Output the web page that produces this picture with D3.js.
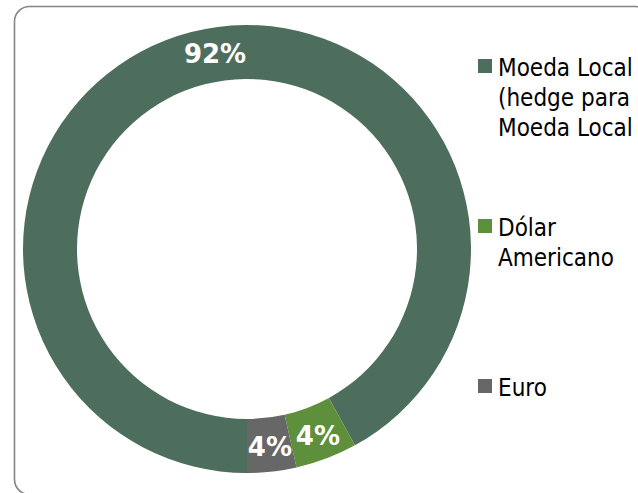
<!DOCTYPE html>
<html>
<head>
<meta charset="utf-8">
<script src="https://cdn.jsdelivr.net/npm/d3@7"></script>
<style>
  html, body { margin: 0; padding: 0; background: #fff; overflow: hidden; }
  svg { display: block; }
</style>
</head>
<body>
<div id="chart"></div>
<script>
const categories = ["Moeda Local (hedge para Moeda Local)", "Dólar Americano", "Euro"];
const shares = [92, 4.45, 3.55];
const labels = ["92%", "4%", "4%"];
const legendLines = [["Moeda Local", "(hedge para", "Moeda Local"], ["Dólar", "Americano"], ["Euro"]];
const colors = ["#4e6e5d", "#5e8f3b", "#676767"];

const W = 638, H = 493;
const cx = 247, cy = 249, outerR = 224, innerR = 170;

const svg = d3.select("#chart").append("svg")
  .attr("width", W)
  .attr("height", H);

// frame
svg.append("rect")
  .attr("x", 14.5).attr("y", 6.5)
  .attr("width", 636).attr("height", 488)
  .attr("rx", 15).attr("ry", 15)
  .attr("fill", "none")
  .attr("stroke", "#858585")
  .attr("stroke-width", 1.6);

const pie = d3.pie().sort(null)
  .startAngle(Math.PI).endAngle(3 * Math.PI);
const arcs = pie(shares);

const arc = d3.arc().innerRadius(innerR).outerRadius(outerR);

const g = svg.append("g").attr("transform", `translate(${cx},${cy})`);

g.selectAll("path")
  .data(arcs)
  .enter().append("path")
  .attr("d", arc)
  .attr("fill", (d, i) => colors[i]);

// the big slice label sits a bit closer to the top, like excel does
const labelPos = (d, i) => {
  const [x, y] = arc.centroid(d);
  return i === 0 ? [x + 17, y - 5] : [x + 1, y + 2];
};

g.selectAll("text")
  .data(arcs)
  .enter().append("text")
  .attr("transform", (d, i) => `translate(${labelPos(d, i)})`)
  .attr("text-anchor", "middle")
  .attr("dy", "0.36em")
  .style("font-family", "'DejaVu Sans', Verdana, sans-serif")
  .style("font-weight", "bold")
  .style("font-size", "26px")
  .attr("fill", "#fff")
  .text((d, i) => labels[i]);

// legend
const legendY = [59, 219, 379];
const legend = svg.append("g").attr("transform", "translate(478,0)");

categories.forEach((c, i) => {
  const row = legend.append("g").attr("transform", `translate(0,${legendY[i]})`);
  row.append("rect")
    .attr("width", 14).attr("height", 14)
    .attr("fill", colors[i]);
  const t = row.append("text")
    .attr("x", 20)
    .attr("y", 17)
    .style("font-family", "'DejaVu Sans Condensed', 'DejaVu Sans', sans-serif")
    .style("font-stretch", "condensed")
    .style("font-size", "24px")
    .attr("fill", "#000");
  legendLines[i].forEach((line, j) => {
    t.append("tspan").attr("x", 20).attr("dy", j === 0 ? 0 : 30).text(line);
  });
});
</script>
</body>
</html>
